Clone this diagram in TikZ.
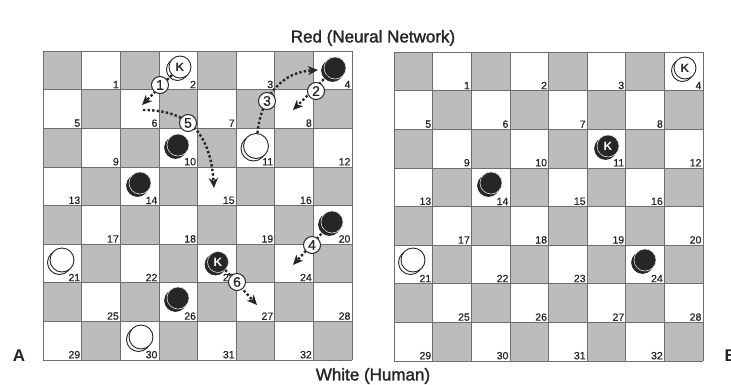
\documentclass[tikz,border=0pt]{standalone}
\usepackage{fontspec}
\setmainfont{Liberation Sans}
\newfontfamily\titlefont{Liberation Sans}[FakeBold=1.6]
\newfontfamily\numfont{Liberation Sans}[FakeBold=0.6]
\usetikzlibrary{arrows.meta}
\definecolor{ink}{HTML}{262626}
\definecolor{dsq}{HTML}{BCBCBC}
\definecolor{gridc}{HTML}{6E6E6E}
\def\sq{38.6}
\tikzset{
  darksq/.style={fill=dsq},
  gridline/.style={draw=gridc, line width=0.6pt},
  numlbl/.style={font=\numfont\fontsize{10.5}{10.5}\selectfont, text=ink, inner sep=1.2pt, anchor=south east},
  wpiece/.style={circle, draw=ink, fill=white, line width=0.9pt, inner sep=0pt, text=ink, font=\bfseries\fontsize{12}{12}\selectfont},
  wshadow/.style={draw=ink, fill=white, line width=0.9pt},
  bpiece/.style={circle, draw=white!85!ink, fill=ink, line width=0.6pt, inner sep=0pt, text=white, font=\bfseries\fontsize{12}{12}\selectfont},
  bshadow/.style={draw=ink, fill=ink, line width=0.6pt},
  move/.style={draw=ink, line width=2.4pt, dash pattern=on 2.4pt off 2.2pt, -{Stealth[length=10pt,width=9pt,inset=3pt]}},
  movelbl/.style={circle, draw=ink, fill=white, line width=1pt, minimum size=17pt, inner sep=0pt, text=ink, font=\numfont\fontsize{14}{14}\selectfont},
  title/.style={font=\titlefont\fontsize{17}{17}\selectfont, text=ink},
  letter/.style={font=\bfseries\fontsize{17}{17}\selectfont, text=ink},
}
\newcommand\myboard[3]{%
  \foreach \r in {0,...,7}{%
    \foreach \c in {0,...,7}{%
      \pgfmathtruncatemacro\sqpar{mod(\r+\c,2)}%
      \pgfmathtruncatemacro\sqnum{\r*4+int(\c/2)+1}%
      \ifnum\sqpar=0
        \fill[darksq] (#1+\c*\sq,#2+\r*\sq) rectangle (#1+\c*\sq+\sq,#2+\r*\sq+\sq);
      \else
        \node[numlbl] (#3\sqnum) at (#1+\c*\sq+\sq,#2+\r*\sq+\sq) {\sqnum};
      \fi}}%
  \foreach \i in {0,...,8}{%
    \draw[gridline] (#1+\i*\sq,#2) -- (#1+\i*\sq,#2+8*\sq);
    \draw[gridline] (#1,#2+\i*\sq) -- (#1+8*\sq,#2+\i*\sq);}%
}
% style, name, x, y, radius, text
\newcommand\piece[6]{%
  \draw[#1shadow] (#3-2.5,#4+2.5) circle[radius=#5pt];
  \node[#1piece, minimum size={2*#5pt}] (#2) at (#3,#4) {#6};}
\begin{document}
\begin{tikzpicture}[x=1pt,y=-1pt]
\useasboundingbox (0,0) rectangle (731,384);
\fill[white] (0,0) rectangle (731,384);
% boards
\myboard{43}{51}{L}
\myboard{394}{52}{R}
% left board pieces
\piece{w}{wk2}{180}{67}{11}{K}
\piece{b}{b4}{335}{68}{11}{}
\piece{b}{b10}{178}{145}{11}{}
\piece{w}{w11}{256}{146}{12.5}{}
\piece{b}{b14}{140}{183}{11}{}
\piece{b}{b20}{332}{222}{11}{}
\piece{w}{w21}{62}{260}{12}{}
\piece{b}{bk23}{218}{262}{10.5}{K}
\piece{b}{b26}{178}{298}{11}{}
\piece{w}{w30}{141}{337}{12}{}
% right board pieces
\piece{w}{rwk4}{685}{68}{11}{K}
\piece{b}{rbk11}{608}{146}{11}{K}
\piece{b}{rb14}{491}{183}{11}{}
\piece{w}{rw21}{413}{260}{12}{}
\piece{b}{rb24}{645}{260}{11}{}
% moves
\coordinate (t1) at (142,105);
\coordinate (t2) at (293,110);
\coordinate (t3) at (318,70);
\coordinate (t4) at (293,265);
\coordinate (s5) at (143,110);
\coordinate (t5) at (214,188);
\coordinate (t6) at (257,305);
\draw[move] (wk2) -- (t1);
\draw[move] (b4) -- (t2);
\draw[move] (w11) .. controls (262,92) and (285,72) .. (t3);
\draw[move] (b20) -- (t4);
\draw[move] (s5) .. controls (180,110) and (210,125) .. (t5);
\draw[move] (bk23) -- (t6);
\node[movelbl] (m1) at (160,85) {1};
\node[movelbl] (m2) at (316,91) {2};
\node[movelbl] (m3) at (267,101) {3};
\node[movelbl] (m4) at (312,245) {4};
\node[movelbl] (m5) at (188,123) {5};
\node[movelbl] (m6) at (237,282) {6};
% titles
\node[title] (top) at (373,38) {Red (Neural Network)};
\node[title] (bot) at (373,376) {White (Human)};
\node[letter] (A) at (19,356) {A};
\node[letter, anchor=west] (B) at (721,356) {B};
\end{tikzpicture}
\end{document}
